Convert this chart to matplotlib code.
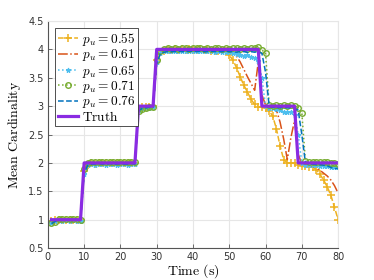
import matplotlib
matplotlib.use("Agg")
import matplotlib.pyplot as plt
import numpy as np

plt.rcParams['mathtext.fontset'] = 'cm'
plt.rcParams['font.family'] = ['DejaVu Sans']

time_s = list(range(1, 81))

truth = [1]*9 + [2]*15 + [3]*5 + [4]*29 + [3]*10 + [2]*12

pu_055 = ([0.97, 0.99, 1.0, 1.0, 0.99, 1.0, 1.0, 1.0, 0.99]
          + [1.85, 1.97, 1.99, 1.98, 2.0, 1.99, 2.0, 2.0, 1.99, 2.0, 2.0, 1.99, 2.0, 2.0, 1.99]
          + [2.95, 2.98, 2.99, 2.99, 3.0]
          + [3.82, 3.95, 3.98, 3.99, 3.99, 4.0, 3.99, 4.0, 3.99, 4.0, 3.99, 3.99, 4.0, 3.99, 3.99,
             3.98, 3.98, 3.97, 3.99, 3.97, 3.9, 3.81, 3.68, 3.52, 3.37, 3.25, 3.12, 3.03, 2.99]
          + [2.98, 2.96, 2.92, 2.82, 2.6, 2.3, 2.06, 2.0, 2.0, 1.99]
          + [1.97, 1.95, 1.94, 1.93, 1.92, 1.88, 1.8, 1.7, 1.58, 1.43, 1.22, 1.0])

pu_061 = ([0.96, 0.99, 1.0, 1.0, 1.0, 0.99, 1.0, 1.0, 1.0]
          + [1.88, 1.98, 2.0, 1.99, 2.0, 2.0, 1.99, 2.0, 2.0, 2.0, 1.99, 2.0, 2.0, 2.0, 2.0]
          + [2.94, 2.98, 2.99, 3.0, 3.0]
          + [3.8, 3.95, 3.98, 3.99, 4.0, 4.0, 4.0, 3.99, 4.0, 4.0, 4.0, 3.99, 4.0, 4.0, 4.0,
             3.99, 4.0, 3.99, 3.99, 3.98, 3.97, 3.94, 3.88, 3.78, 3.65, 3.52, 3.4, 3.28, 3.78]
          + [3.2, 3.02, 3.0, 2.99, 2.93, 2.72, 2.42, 2.06, 2.45, 2.75]
          + [2.15, 1.99, 1.98, 1.96, 1.94, 1.91, 1.87, 1.82, 1.77, 1.7, 1.6, 1.47])

pu_065 = ([0.94, 0.97, 0.99, 0.98, 0.99, 0.98, 0.99, 0.98, 0.98]
          + [1.8, 1.96, 1.98, 1.97, 1.98, 1.98, 1.97, 1.98, 1.98, 1.97, 1.98, 1.98, 1.97, 1.98, 1.98]
          + [2.93, 2.96, 2.97, 2.97, 2.98]
          + [3.78, 3.94, 3.97, 3.97, 3.98, 3.97, 3.98, 3.97, 3.98, 3.97, 3.98, 3.98, 3.97, 3.98, 3.97,
             3.97, 3.96, 3.97, 3.96, 3.95, 3.95, 3.94, 3.92, 3.9, 3.88, 3.9, 3.87, 3.85, 3.8]
          + [3.5, 3.0, 2.97, 2.96, 2.95, 2.93, 2.9, 2.89, 2.9, 2.85]
          + [2.5, 2.0, 1.97, 1.97, 1.96, 1.96, 1.95, 1.95, 1.94, 1.93, 1.92, 1.93])

pu_071 = ([0.95, 0.96, 1.01, 1.02, 1.01, 1.02, 1.01, 1.01, 1.0]
          + [1.9, 2.0, 2.01, 2.02, 2.01, 2.02, 2.02, 2.01, 2.02, 2.02, 2.01, 2.02, 2.02, 2.01, 2.01]
          + [2.92, 2.95, 2.97, 2.98, 2.99]
          + [3.82, 3.98, 4.01, 4.02, 4.01, 4.02, 4.01, 4.02, 4.02, 4.01, 4.02, 4.03, 4.02, 4.01, 4.02,
             4.01, 4.03, 4.02, 4.01, 4.02, 4.01, 4.02, 4.02, 4.01, 4.02, 4.01, 4.02, 4.03, 4.04]
          + [3.99, 3.93, 3.02, 3.01, 3.02, 3.01, 3.02, 3.01, 3.02, 3.01]
          + [2.97, 2.88, 2.03, 2.02, 2.02, 2.01, 2.02, 2.02, 2.01, 2.0, 1.99, 1.98])

pu_076 = ([0.93, 0.97, 0.99, 0.99, 1.0, 0.99, 0.99, 1.0, 0.99]
          + [1.82, 1.96, 1.98, 1.98, 1.99, 1.98, 1.98, 1.99, 1.98, 1.98, 1.99, 1.98, 1.98, 1.99, 1.98]
          + [2.92, 2.96, 2.97, 2.98, 2.98]
          + [3.75, 3.92, 3.95, 3.96, 3.96, 3.96, 3.97, 3.96, 3.96, 3.97, 3.96, 3.96, 3.97, 3.96, 3.96,
             3.97, 3.96, 3.96, 3.96, 3.97, 3.96, 3.96, 3.95, 3.96, 3.96, 3.95, 3.96, 3.95, 3.96]
          + [3.93, 3.6, 3.0, 2.98, 2.98, 2.97, 2.98, 2.97, 2.97, 2.96]
          + [2.93, 2.5, 2.0, 1.98, 1.98, 1.97, 1.97, 1.96, 1.95, 1.92, 1.9, 1.9])

labels = [r'$p_u = 0.55$', r'$p_u = 0.61$', r'$p_u = 0.65$', r'$p_u = 0.71$', r'$p_u = 0.76$', r'$\mathrm{Truth}$']

fig = plt.figure(figsize=(3.74, 2.8), dpi=100)
ax = fig.add_axes([0.128, 0.114, 0.776, 0.811])

ax.plot(time_s, pu_055, color='#EDB120', ls='--', lw=1.1, marker='+', ms=5.5, mew=1.1, label=labels[0])
ax.plot(time_s, pu_061, color='#D95319', ls='-.', lw=1.1, label=labels[1])
ax.plot(time_s, pu_065, color='#4DBEEE', ls=':', lw=1.1, marker='*', ms=3.5, mew=0.8, label=labels[2])
ax.plot(time_s, pu_071, color='#77AC30', ls=':', lw=1.1, marker='o', ms=4, mfc='none', mew=1.0, label=labels[3])
ax.plot(time_s, pu_076, color='#0072BD', ls='--', lw=1.1, label=labels[4])
ax.plot(time_s, truth, color='#8A2BE2', ls='-', lw=2.3, label=labels[5])

ax.set_xlim(0, 80)
ax.set_ylim(0.5, 4.5)
ax.set_xticks(range(0, 81, 10))
ax.set_yticks(np.arange(0.5, 4.51, 0.5))
ax.set_yticklabels(['0.5', '1', '1.5', '2', '2.5', '3', '3.5', '4', '4.5'])
ax.grid(True, color='#e6e6e6', lw=0.8)
ax.set_axisbelow(True)
for s in ['top', 'right']:
    ax.spines[s].set_color('#e6e6e6')
for s in ['left', 'bottom']:
    ax.spines[s].set_color('#555555')
    ax.spines[s].set_linewidth(0.8)
ax.tick_params(axis='both', direction='in', length=3, width=0.6, labelsize=7,
               labelcolor='#333333', color='#555555', pad=3)
ax.tick_params(top=False, right=False)

ax.set_xlabel(r'$\mathrm{Time\ (s)}$', fontsize=10, labelpad=0)
ax.set_ylabel(r'$\mathrm{Mean\ Cardinality}$', fontsize=10, labelpad=4)

leg = ax.legend(loc='upper left', fontsize=9.6, handlelength=1.5, handletextpad=0.3,
                labelspacing=-0.05, borderpad=0.2, borderaxespad=0.55, fancybox=False,
                framealpha=1, edgecolor='#333333')
leg.get_frame().set_linewidth(0.6)

fig.savefig('out.png', dpi=100)
